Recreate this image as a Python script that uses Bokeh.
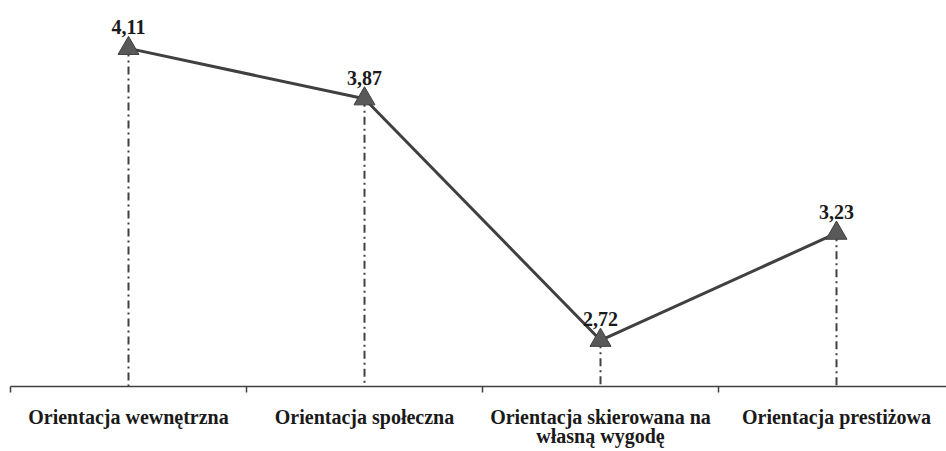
from bokeh.plotting import figure
from bokeh.models import FixedTicker, ColumnDataSource, Range1d
from bokeh.core.properties import value
from bokeh.embed import file_html
from bokeh.resources import INLINE

categories = ["Orientacja wewnętrzna", "Orientacja społeczna",
              "Orientacja skierowana na\nwłasną wygodę", "Orientacja prestiżowa"]
values = [4.11, 3.87, 2.72, 3.23]
value_labels = ["4,11", "3,87", "2,72", "3,23"]

xs = [i + 0.5 for i in range(len(categories))]
y0 = 2.5

p = figure(width=946, height=451, output_backend="svg", toolbar_location=None,
           x_range=Range1d(0, 936 / 236), y_range=Range1d(y0, 4.3),
           min_border_left=10, min_border_right=0, min_border_top=8, min_border_bottom=65)
p.outline_line_color = None
p.xgrid.visible = False
p.ygrid.visible = False
p.yaxis.visible = False
p.background_fill_color = "white"

src = ColumnDataSource(dict(x=xs, y=values, y0=[y0] * len(xs), lab=value_labels))

p.segment(x0="x", y0="y", x1="x", y1="y0", source=src, line_color="#404040",
          line_width=2, line_dash="8 4 2 4")
p.line(x="x", y="y", source=src, line_color="#404040", line_width=3)
p.scatter(x="x", y="y", source=src, marker="triangle", size=21,
          fill_color="#595959", line_color="#404040", line_width=1)
p.text(x="x", y="y", text="lab", source=src, text_align="center",
       text_baseline="alphabetic", y_offset=-21, text_font=value("Liberation Serif"),
       text_font_style="bold", text_font_size="20px", text_color="#1a1a1a")

ax = p.xaxis[0]
ax.ticker = FixedTicker(ticks=xs, minor_ticks=[0, 1, 2, 3, 4])
ax.major_label_overrides = {x: c for x, c in zip(xs, categories)}
ax.major_tick_out = 0
ax.major_tick_in = 0
ax.minor_tick_out = 6
ax.minor_tick_in = 0
ax.minor_tick_line_color = "#404040"
ax.minor_tick_line_width = 1.5
ax.axis_line_color = "#404040"
ax.axis_line_width = 1.5
ax.major_label_standoff = 13
ax.major_label_text_font = "Liberation Serif"
ax.major_label_text_font_style = "bold"
ax.major_label_text_font_size = "20px"
ax.major_label_text_color = "#1a1a1a"
ax.major_label_text_line_height = 0.9

open("out.html", "w").write(file_html(p, INLINE))
